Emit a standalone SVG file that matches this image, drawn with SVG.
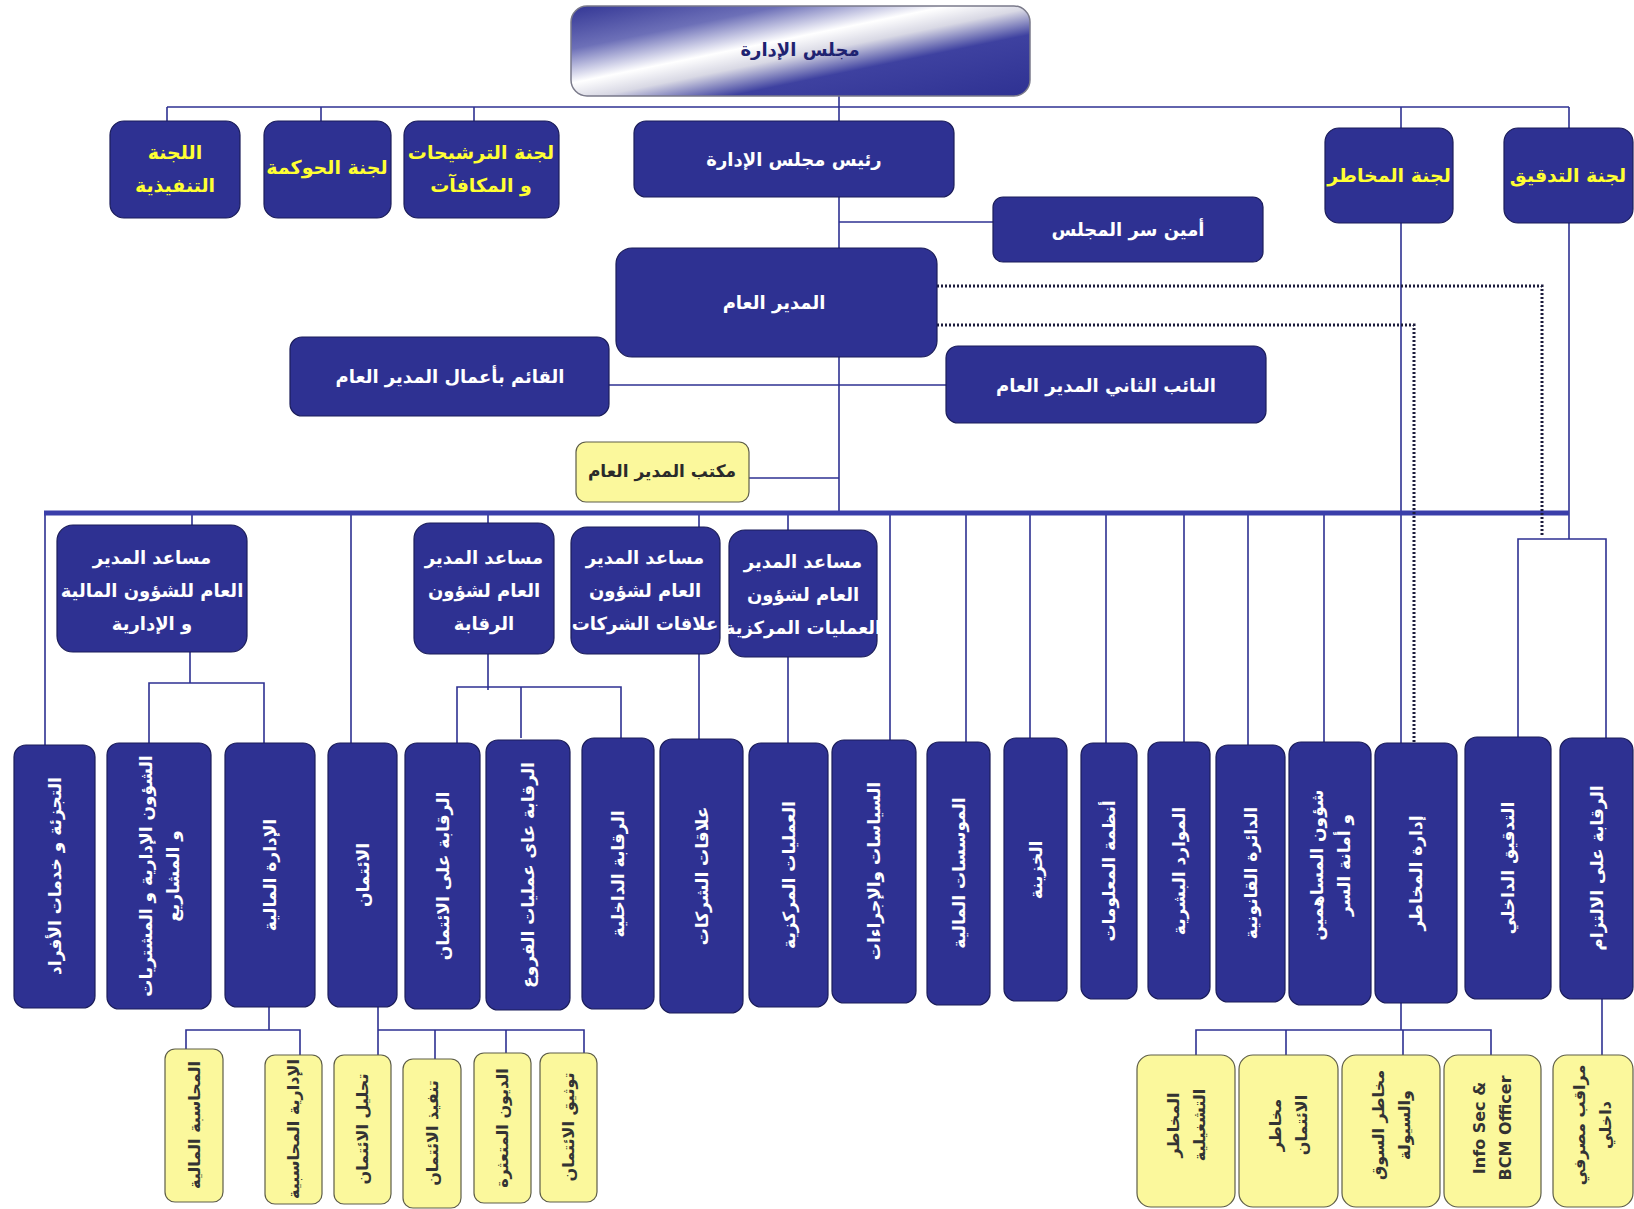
<svg xmlns="http://www.w3.org/2000/svg" width="1634" height="1209" viewBox="0 0 1634 1209">
<style>
.nb{fill:#2e3192;stroke:#1b1d5a;stroke-width:1.2}
.yb{fill:#fbf89c;stroke:#5e5e48;stroke-width:1.2}
.c{stroke:#2e3192;stroke-width:1.6;fill:none}
.bus{stroke:#3a3eaa;stroke-width:5;fill:none}
.dot{stroke:#1c1c3c;stroke-width:3;stroke-dasharray:2 2;fill:none}
text{font-family:"DejaVu Sans","Noto Sans",sans-serif;font-weight:bold;text-anchor:middle;dominant-baseline:central}
.w{fill:#ffffff;font-size:18px}
.y{fill:#ffff33;font-size:19px}
.k{fill:#2a2a2a;font-size:17px}
.v{fill:#ffffff;font-size:17px}
.vk{fill:#333333;font-size:16px}
.t{fill:#1f2270;font-size:18px}
</style>
<defs>
<linearGradient id="gTop" gradientUnits="userSpaceOnUse" x1="767" y1="-38" x2="804" y2="143">
<stop offset="0" stop-color="#2e3192"/>
<stop offset="0.25" stop-color="#6d70b8"/>
<stop offset="0.43" stop-color="#ffffff"/>
<stop offset="0.53" stop-color="#d8d8e4"/>
<stop offset="0.67" stop-color="#3e41a0"/>
<stop offset="1" stop-color="#2e3192"/>
</linearGradient>
</defs>

<g id="connectors">
<path class="c" d="M839 96 V513"/>
<path class="c" d="M167 107 H1569"/>
<path class="c" d="M167 107 V121 M321 107 V121 M474 107 V121"/>
<path class="c" d="M1401 107 V743"/>
<path class="c" d="M1569 107 V539"/>
<path class="c" d="M839 222 H993"/>
<path class="c" d="M609 385 H946"/>
<path class="c" d="M749 478 H839"/>
<path class="c" d="M45 513 V745 M192 513 V525 M351 513 V743 M488 513 V523 M699 513 V527 M788 513 V530 M890 513 V740 M966 513 V742 M1030 513 V738 M1106 513 V743 M1184 513 V743 M1248 513 V745 M1324 513 V742"/>
<path class="c" d="M1518 739 V539 H1606 V738"/>
<path class="c" d="M190 652 V683 M149 743 V683 H264 V743"/>
<path class="c" d="M488 654 V690 M457 743 V687 H621 V738 M521 687 V738"/>
<path class="c" d="M699 654 V739 M788 657 V743"/>
<path class="c" d="M269 1007 V1030 M186 1049 V1030 H300 V1055"/>
<path class="c" d="M378 1007 V1055 M378 1030 H584 V1053 M435 1030 V1059 M506 1030 V1053"/>
<path class="c" d="M1401 1003 V1030 M1196 1055 V1030 H1491 V1055 M1286 1030 V1055 M1403 1030 V1055"/>
<path class="c" d="M1602 999 V1055"/>
<path class="bus" d="M44 513 H1569"/>
<path class="dot" d="M937 286 H1542 V536"/>
<path class="dot" d="M937 325 H1414 V743"/>
</g>

<g id="board"><rect x="571" y="6" width="459" height="90" rx="16" fill="url(#gTop)" stroke="#7a7a8a" stroke-width="1.5"/><text class="t" x="800" y="49">مجلس الإدارة</text></g>

<g id="exec-committee"><rect class="nb" x="110" y="121" width="130" height="97" rx="14"/><text class="y" x="175" y="152">اللجنة</text><text class="y" x="175" y="185">التنفيذية</text></g>
<g id="governance"><rect class="nb" x="264" y="121" width="127" height="97" rx="14"/><text class="y" x="327" y="167">لجنة الحوكمة</text></g>
<g id="nominations"><rect class="nb" x="404" y="121" width="155" height="97" rx="14"/><text class="y" x="481" y="152">لجنة الترشيحات</text><text class="y" x="481" y="185">و المكافآت</text></g>
<g id="chairman"><rect class="nb" x="634" y="121" width="320" height="76" rx="12"/><text class="w" x="794" y="159">رئيس مجلس الإدارة</text></g>
<g id="risk-committee"><rect class="nb" x="1325" y="128" width="128" height="95" rx="14"/><text class="y" x="1389" y="175">لجنة المخاطر</text></g>
<g id="audit-committee"><rect class="nb" x="1504" y="128" width="129" height="95" rx="14"/><text class="y" x="1568" y="175">لجنة التدقيق</text></g>
<g id="secretary"><rect class="nb" x="993" y="197" width="270" height="65" rx="10"/><text class="w" x="1128" y="229">أمين سر المجلس</text></g>
<g id="gm"><rect class="nb" x="616" y="248" width="321" height="109" rx="16"/><text class="w" x="774" y="302">المدير العام</text></g>
<g id="acting-gm"><rect class="nb" x="290" y="337" width="319" height="79" rx="12"/><text class="w" x="450" y="376">القائم بأعمال المدير العام</text></g>
<g id="deputy-gm"><rect class="nb" x="946" y="346" width="320" height="77" rx="12"/><text class="w" x="1106" y="385">النائب الثاني المدير العام</text></g>
<g id="gm-office"><rect class="yb" x="576" y="442" width="173" height="60" rx="10"/><text class="k" x="662" y="471">مكتب المدير العام</text></g>

<g id="agm-finance"><rect class="nb" x="57" y="525" width="190" height="127" rx="16"/><text class="w" x="152" y="557">مساعد المدير</text><text class="w" x="152" y="590">العام للشؤون المالية</text><text class="w" x="152" y="623">و الإدارية</text></g>
<g id="agm-control"><rect class="nb" x="414" y="523" width="140" height="131" rx="16"/><text class="w" x="484" y="557">مساعد المدير</text><text class="w" x="484" y="590">العام لشؤون</text><text class="w" x="484" y="623">الرقابة</text></g>
<g id="agm-corporate"><rect class="nb" x="571" y="527" width="149" height="127" rx="16"/><text class="w" x="645" y="557">مساعد المدير</text><text class="w" x="645" y="590">العام لشؤون</text><text class="w" x="645" y="623">علاقات الشركات</text></g>
<g id="agm-operations"><rect class="nb" x="729" y="530" width="148" height="127" rx="16"/><text class="w" x="803" y="561">مساعد المدير</text><text class="w" x="803" y="594">العام لشؤون</text><text class="w" x="803" y="627">العمليات المركزية</text></g>

<g id="d01"><rect class="nb" x="14" y="745" width="81" height="263" rx="12"/><text class="v" transform="translate(54.5 876) rotate(-90)">التجزئة و خدمات الأفراد</text></g>
<g id="d02"><rect class="nb" x="107" y="743" width="104" height="266" rx="12"/><text class="v" transform="translate(146 876) rotate(-90)">الشؤون الإدارية و المشتريات</text><text class="v" transform="translate(173 876) rotate(-90)">و المشاريع</text></g>
<g id="d03"><rect class="nb" x="225" y="743" width="90" height="264" rx="12"/><text class="v" transform="translate(270 875) rotate(-90)">الإدارة المالية</text></g>
<g id="d04"><rect class="nb" x="328" y="743" width="69" height="264" rx="12"/><text class="v" transform="translate(362.5 875) rotate(-90)">الائتمان</text></g>
<g id="d05"><rect class="nb" x="405" y="743" width="75" height="266" rx="12"/><text class="v" transform="translate(442.5 876) rotate(-90)">الرقابة على الائتمان</text></g>
<g id="d06"><rect class="nb" x="486" y="740" width="84" height="270" rx="12"/><text class="v" transform="translate(528 875) rotate(-90)">الرقابة عاى عمليات الفروع</text></g>
<g id="d07"><rect class="nb" x="582" y="738" width="72" height="271" rx="12"/><text class="v" transform="translate(618 874) rotate(-90)">الرقابة الداخلية</text></g>
<g id="d08"><rect class="nb" x="660" y="739" width="83" height="274" rx="12"/><text class="v" transform="translate(701.5 876) rotate(-90)">علاقات الشركات</text></g>
<g id="d09"><rect class="nb" x="749" y="743" width="79" height="264" rx="12"/><text class="v" transform="translate(788.5 875) rotate(-90)">العمليات المركزية</text></g>
<g id="d10"><rect class="nb" x="832" y="740" width="84" height="263" rx="12"/><text class="v" transform="translate(874 871) rotate(-90)">السياسات والإجراءات</text></g>
<g id="d11"><rect class="nb" x="927" y="742" width="63" height="263" rx="12"/><text class="v" transform="translate(958.5 873) rotate(-90)">الموسسات المالية</text></g>
<g id="d12"><rect class="nb" x="1004" y="738" width="63" height="263" rx="12"/><text class="v" transform="translate(1035.5 870) rotate(-90)">الخزينة</text></g>
<g id="d13"><rect class="nb" x="1081" y="743" width="56" height="256" rx="12"/><text class="v" transform="translate(1109 871) rotate(-90)">أنظمة المعلومات</text></g>
<g id="d14"><rect class="nb" x="1148" y="742" width="62" height="257" rx="12"/><text class="v" transform="translate(1179 871) rotate(-90)">الموارد البشرية</text></g>
<g id="d15"><rect class="nb" x="1216" y="745" width="69" height="257" rx="12"/><text class="v" transform="translate(1250.5 873) rotate(-90)">الدائرة القانونية</text></g>
<g id="d16"><rect class="nb" x="1289" y="742" width="82" height="263" rx="12"/><text class="v" transform="translate(1317 865) rotate(-90)">شؤون المساهمين</text><text class="v" transform="translate(1344 865) rotate(-90)">و أمانة السر</text></g>
<g id="d17"><rect class="nb" x="1375" y="743" width="82" height="260" rx="12"/><text class="v" transform="translate(1416 873) rotate(-90)">إدارة المخاطر</text></g>
<g id="d18"><rect class="nb" x="1465" y="737" width="86" height="262" rx="12"/><text class="v" transform="translate(1508 868) rotate(-90)">التدقيق الداخلي</text></g>
<g id="d19"><rect class="nb" x="1560" y="738" width="73" height="261" rx="12"/><text class="v" transform="translate(1596.5 868) rotate(-90)">الرقابة على الالتزام</text></g>

<g id="s01"><rect class="yb" x="165" y="1049" width="58" height="153" rx="10"/><text class="vk" transform="translate(194 1125) rotate(-90)">المحاسبة المالية</text></g>
<g id="s02"><rect class="yb" x="265" y="1055" width="57" height="149" rx="10"/><text class="vk" transform="translate(293.5 1129) rotate(-90)">الإدارية المحاسبية</text></g>
<g id="s03"><rect class="yb" x="334" y="1055" width="57" height="149" rx="10"/><text class="vk" transform="translate(362.5 1129) rotate(-90)">تحليل الائتمان</text></g>
<g id="s04"><rect class="yb" x="403" y="1059" width="58" height="149" rx="10"/><text class="vk" transform="translate(432 1133) rotate(-90)">تنفيذ الائتمان</text></g>
<g id="s05"><rect class="yb" x="474" y="1053" width="57" height="150" rx="10"/><text class="vk" transform="translate(502.5 1128) rotate(-90)">الديون المتعثرة</text></g>
<g id="s06"><rect class="yb" x="540" y="1053" width="57" height="149" rx="10"/><text class="vk" transform="translate(568.5 1127) rotate(-90)">توثيق الائتمان</text></g>
<g id="s07"><rect class="yb" x="1137" y="1055" width="98" height="152" rx="14"/><text class="vk" transform="translate(1173 1125) rotate(-90)">المخاطر</text><text class="vk" transform="translate(1199 1125) rotate(-90)">التشغيلية</text></g>
<g id="s08"><rect class="yb" x="1239" y="1055" width="99" height="152" rx="14"/><text class="vk" transform="translate(1275 1125) rotate(-90)">مخاطر</text><text class="vk" transform="translate(1301 1125) rotate(-90)">الائتمان</text></g>
<g id="s09"><rect class="yb" x="1342" y="1055" width="98" height="152" rx="14"/><text class="vk" transform="translate(1378 1125) rotate(-90)">مخاطر السوق</text><text class="vk" transform="translate(1404 1125) rotate(-90)">والسيولة</text></g>
<g id="s10"><rect class="yb" x="1444" y="1055" width="97" height="152" rx="14"/><text class="vk" transform="translate(1479 1128) rotate(-90)">Info Sec &amp;</text><text class="vk" transform="translate(1505 1128) rotate(-90)">BCM Officer</text></g>
<g id="s11"><rect class="yb" x="1553" y="1055" width="80" height="152" rx="14"/><text class="vk" transform="translate(1579 1125) rotate(-90)">مراقب مصرفي</text><text class="vk" transform="translate(1605 1125) rotate(-90)">داخلي</text></g>
</svg>
